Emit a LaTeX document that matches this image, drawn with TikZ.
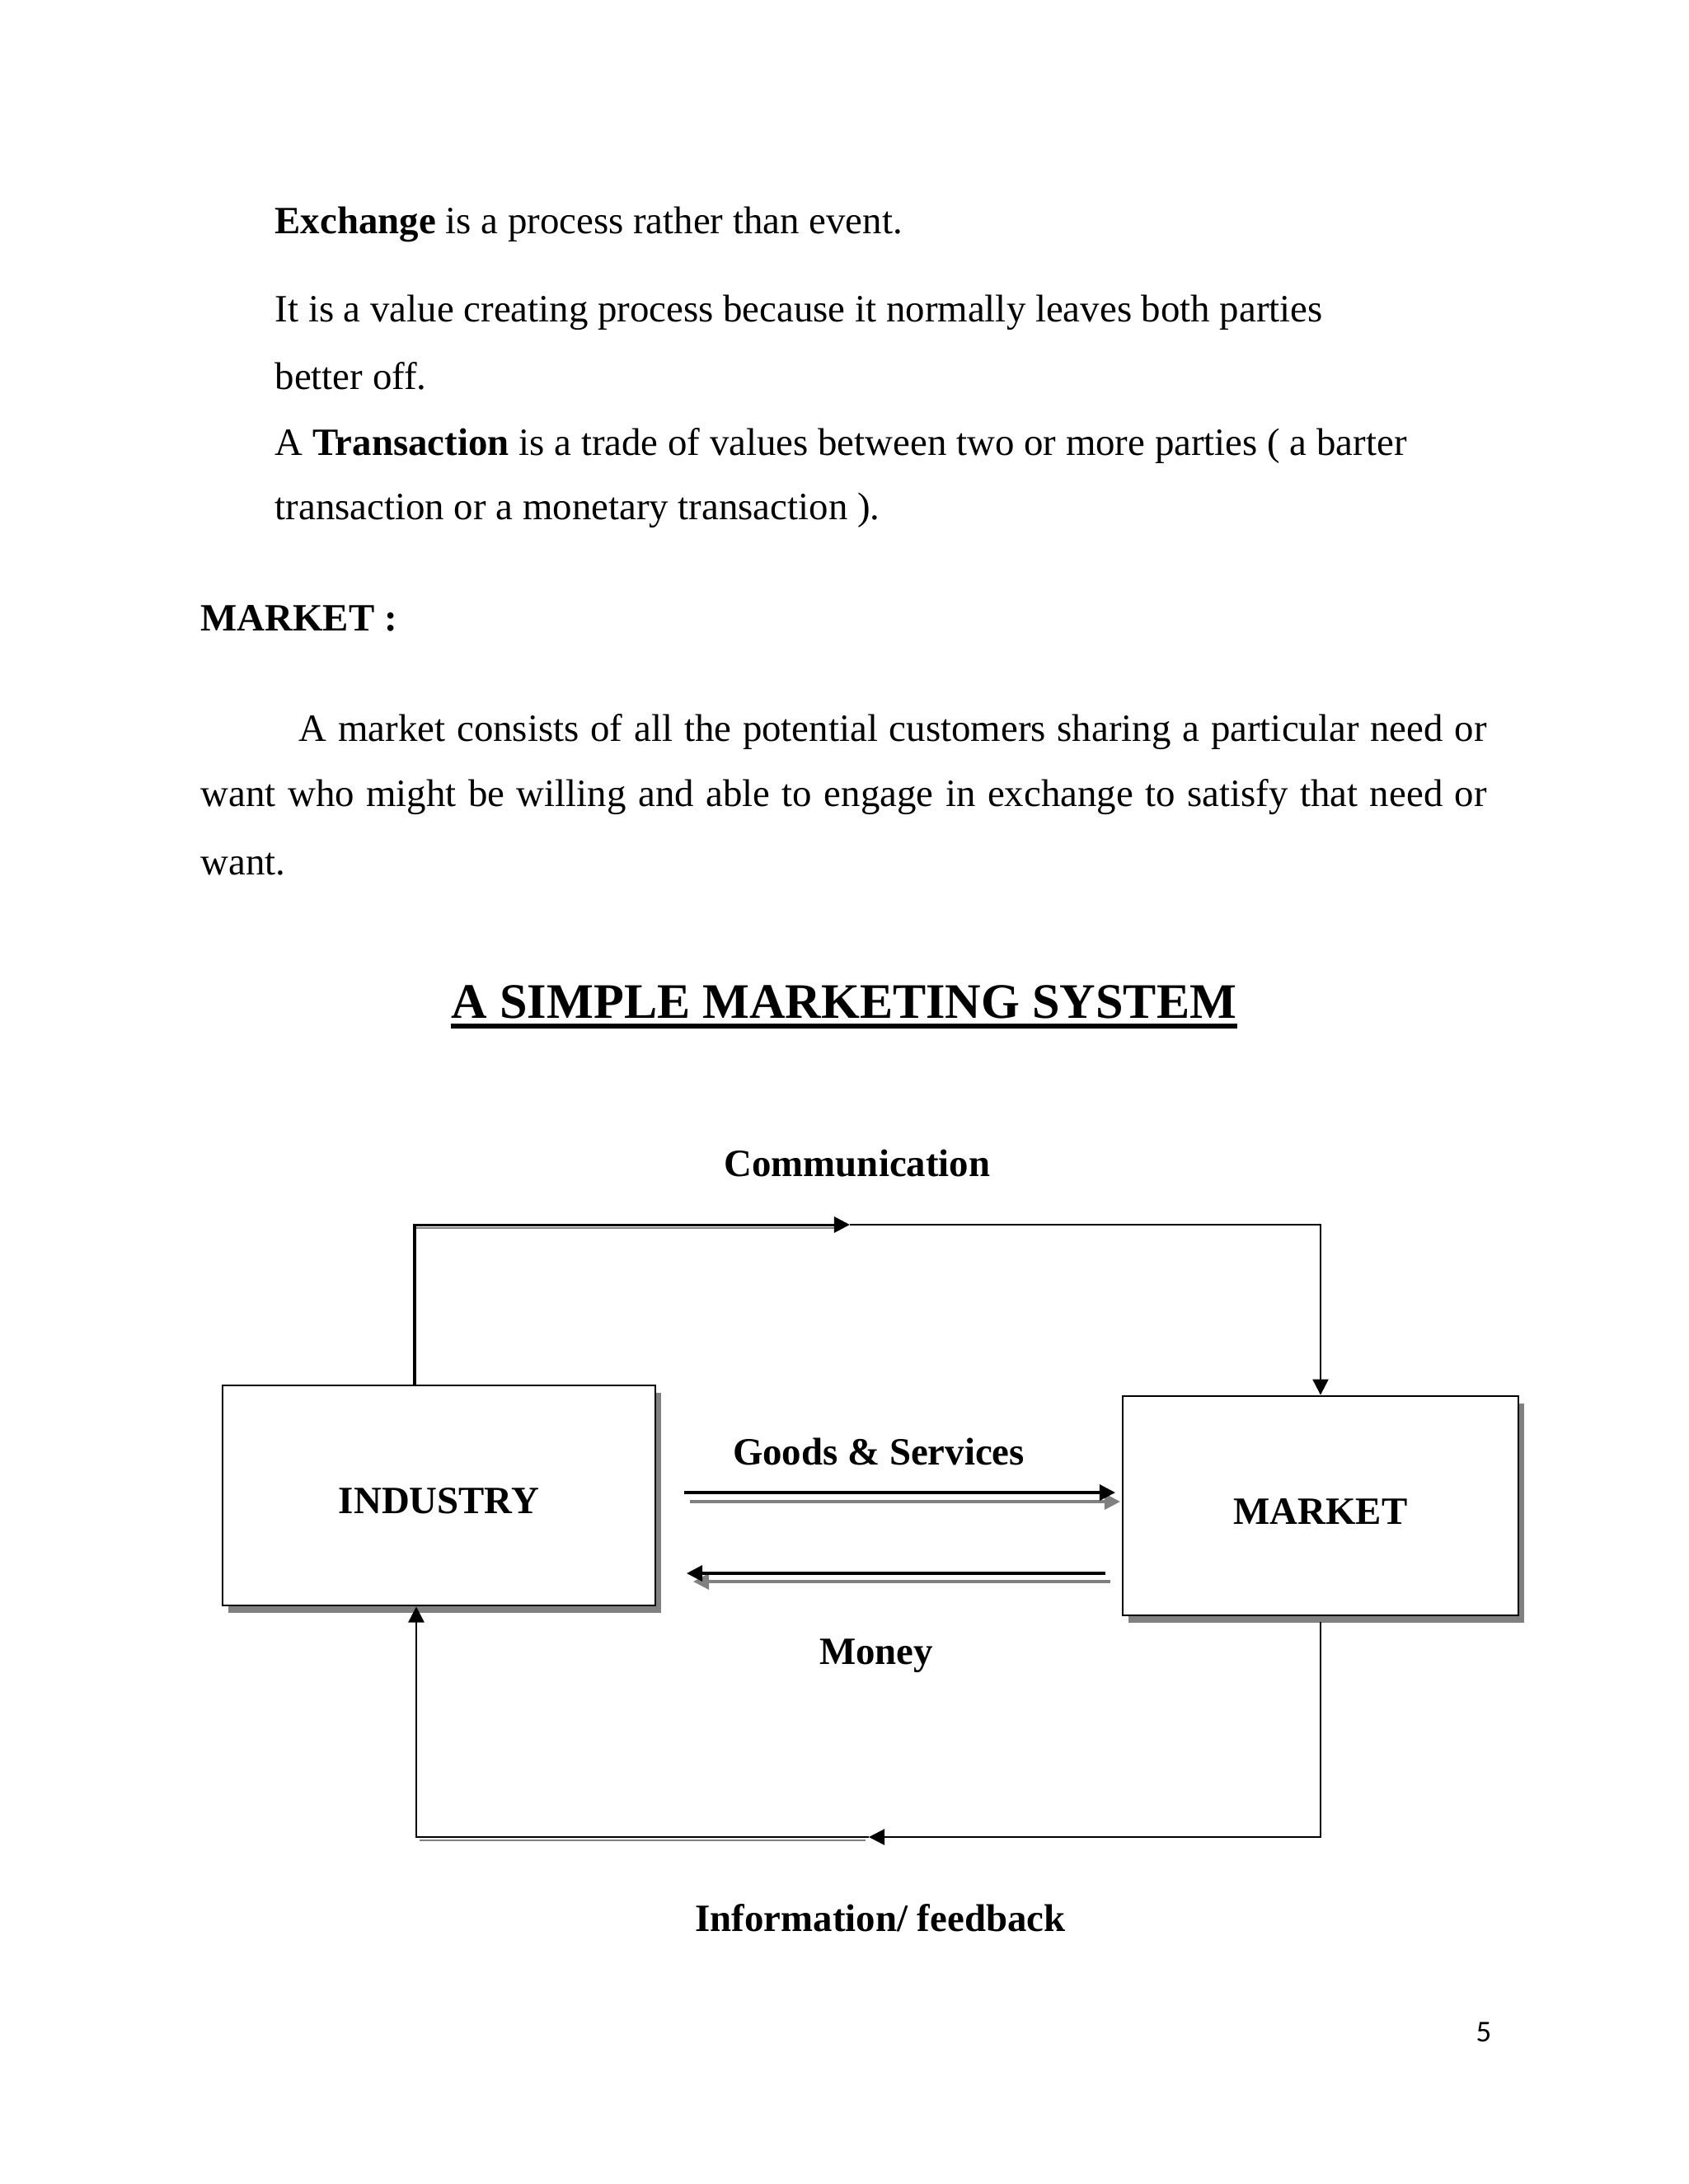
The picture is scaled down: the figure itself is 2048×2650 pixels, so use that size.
\documentclass[tikz,border=0pt]{standalone}
\usepackage{fontspec}
\setmainfont{Liberation Serif}
\newfontfamily\pagefont{Carlito}
\usetikzlibrary{arrows.meta,shadows,calc}
\begin{document}
\begin{tikzpicture}[x=0.298828bp, y=-0.298828bp,
  body/.style={anchor=base west, inner sep=0pt, font=\fontsize{14bp}{16bp}\selectfont},
  lbl/.style={anchor=base, inner sep=0pt, font=\fontsize{14bp}{16bp}\selectfont\bfseries},
  blockbox/.style={draw, line width=0.85bp, fill=white, inner sep=0pt,
    text height=13.2bp, text depth=0pt,
    font=\fontsize{14bp}{16bp}\selectfont\bfseries,
    drop shadow={shadow xshift=2.1bp, shadow yshift=-2.6bp, opacity=1, fill=black!50}},
  flow/.style={line width=0.7bp},
  arrowhd/.style={-{Triangle[length=5.7bp,width=5.7bp]}},
  shadowline/.style={draw=black!50, line width=0.7bp}
]
\useasboundingbox (0,0) rectangle (2048,2650);
\fill[white] (0,0) rectangle (2048,2650);

% body text
\node[body] (t1) at (333,283) {\textbf{Exchange} is a process rather than event.};
\node[body] (t2) at (333,390) {It is a value creating process because it normally leaves both parties};
\node[body] (t3) at (333,472) {better off.};
\node[body] (t4) at (333,552) {A \textbf{Transaction} is a trade of values between two or more parties ( a barter};
\node[body] (t5) at (333,630) {transaction or a monetary transaction ).};
\node[body] (h1) at (243,765) {\textbf{MARKET :}};
\node[body] (p1) at (362,899) {\makebox[430.6bp][s]{A market consists of all the potential customers sharing a particular need or}};
\node[body] (p2) at (243,978) {\makebox[466.2bp][s]{want who might be willing and able to engage in exchange to satisfy that need or}};
\node[body] (p3) at (243,1061) {want.};

% title
\node[anchor=base, inner sep=0pt, font=\fontsize{18bp}{20bp}\selectfont\bfseries] (title) at (1024,1235) {A SIMPLE MARKETING SYSTEM};
\draw[line width=1.6bp] ([yshift=-3bp]title.base west) -- ([yshift=-3bp]title.base east);

% boxes
\node[blockbox, minimum width=156.9bp, minimum height=79.8bp] (ind) at (532.5,1814.5) {INDUSTRY};
\node[blockbox, minimum width=143.4bp, minimum height=79.5bp] (mkt) at (1602,1827) {MARKET};

% labels
\node[lbl] (lcom) at (1040,1427) {Communication};
\node[lbl] (lgood) at (1066,1777) {Goods \& Services};
\node[lbl] (lmon) at (1063,2019) {Money};
\node[lbl] (linfo) at (1068,2343) {Information/ feedback};

% top loop
\coordinate (ctl) at (503,1486);
\coordinate (ctm) at (1031,1486);
\coordinate (ctr) at (1602,1486);
\draw[shadowline] ($(ctl)+(2,4)$) -- ($(ctm)+(-14,4)$);
\draw[flow, line width=0.9bp, arrowhd] (ind.north -| ctl) -- (ctl) -- (ctm);
\draw[flow, arrowhd] (ctm) -- (ctr) -- (mkt.north);

% bottom loop
\coordinate (cbr) at (1602,2229);
\coordinate (cbm) at (1054,2229);
\coordinate (cbl) at (505,2229);
\coordinate (cbs) at (1602,1968);
\draw[shadowline] ($(cbm)+(-4,4)$) -- ($(cbl)+(4,4)$);
\draw[flow, arrowhd] (cbs) -- (cbr) -- (cbm);
\draw[flow, arrowhd] (cbm) -- (cbl) -- (ind.south -| cbl);

% middle arrows
\coordinate (gs) at (830,1811);
\coordinate (ge) at (1353,1811);
\coordinate (gs2) at (837,1822);
\coordinate (ge2) at (1359,1822);
\coordinate (ms) at (1341,1909);
\coordinate (me) at (833,1909);
\coordinate (ms2) at (1347,1919);
\coordinate (me2) at (841,1919);
\draw[draw=black!50, line width=1bp, arrowhd] (gs2) -- (ge2);
\draw[line width=1bp, arrowhd] (gs) -- (ge);
\draw[draw=black!50, line width=1bp, arrowhd] (ms2) -- (me2);
\draw[line width=1bp, arrowhd] (ms) -- (me);

% page number
\node[anchor=base west, inner sep=0pt, font=\pagefont\fontsize{11bp}{13bp}\selectfont] (pg) at (1790,2477) {5};
\end{tikzpicture}
\end{document}
